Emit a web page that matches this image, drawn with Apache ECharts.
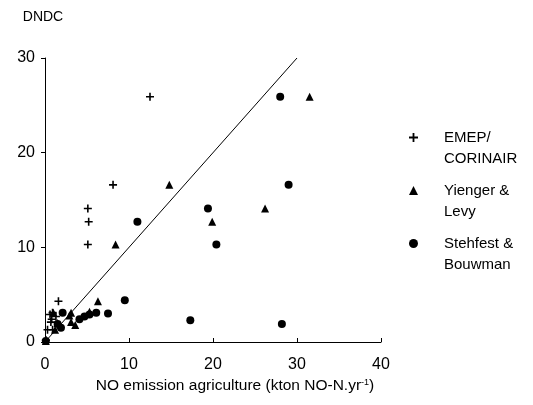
<!DOCTYPE html>
<html style="height: 100%">
<head>
    <meta charset="utf-8">
</head>
<body style="height: 100%; margin: 0; background-color: #fff;">
<div id="container" style="width: 533px; height: 405px"></div>
<script type="text/javascript" src="https://cdn.jsdelivr.net/npm/echarts@6/dist/echarts.min.js"></script>
<script type="text/javascript">
    // x = inventory estimate, y = DNDC estimate (kton NO-N/yr)
    var emepX = [12.5, 8.1, 5.1, 5.2, 5.1, 1.6, 0.9, 0.6, 1.3, 0.8, 0.7, 0.3, 0.9, 0.1];
    var emepY = [25.9, 16.6, 14.1, 12.7, 10.3, 4.3, 3.1, 2.9, 2.7, 2.4, 2.1, 1.3, 1.3, 0.2];
    var yiengerX = [31.5, 14.8, 26.2, 19.9, 8.4, 6.3, 1.0, 3.1, 2.9, 5.3, 1.5, 3.1, 3.6, 1.2, 0.1];
    var yiengerY = [25.9, 16.6, 14.1, 12.7, 10.3, 4.3, 3.1, 3.1, 2.8, 3.2, 2.0, 2.1, 1.8, 1.3, 0.1];
    var stehX = [28.0, 29.0, 19.4, 11.0, 20.4, 9.5, 7.5, 6.1, 5.3, 4.7, 4.1, 2.1, 1.9, 1.5, 17.3, 28.2, 0.1];
    var stehY = [25.9, 16.6, 14.1, 12.7, 10.3, 4.4, 3.0, 3.1, 2.9, 2.7, 2.4, 3.1, 1.5, 1.9, 2.3, 1.9, 0.1];
    var lineX = [0, 30];
    var lineY = [0, 30];
    var seriesNames = ['EMEP/\nCORINAIR', 'Yienger &\nLevy', 'Stehfest &\nBouwman'];

    function pairs(xs, ys) {
        return xs.map(function (x, i) { return [x, ys[i]]; });
    }

    var plus = 'path://M4,0H6V4H10V6H6V10H4V6H0V4H4Z';
    var font = 'Liberation Sans';

    var dom = document.getElementById("container");
    var myChart = echarts.init(dom);

    var option = {
        animation: false,
        textStyle: { fontFamily: font, color: '#000' },
        grid: { left: 45, right: 152, top: 58, bottom: 63 },
        legend: {
            orient: 'vertical',
            left: 404,
            top: 101,
            itemGap: -10,
            itemWidth: 9,
            itemHeight: 9,
            data: [
                { name: seriesNames[0], icon: plus },
                { name: seriesNames[1], icon: 'triangle' },
                { name: seriesNames[2], icon: 'circle' }
            ],
            // blank first line keeps the icon level with the first text line
            formatter: function (name) { return ' \n' + name; },
            itemStyle: { opacity: 1 },
            textStyle: { fontFamily: font, fontSize: 15, color: '#000', lineHeight: 21, padding: [0, 0, 0, 21] }
        },
        xAxis: {
            type: 'value',
            min: 0, max: 40, interval: 10,
            name: 'NO emission agriculture (kton NO-N.yr{sup|-1})',
            nameLocation: 'middle',
            nameGap: 30,
            nameTextStyle: {
                fontFamily: font, fontSize: 15.5, color: '#000', padding: [0, 0, 0, 44],
                rich: { sup: { fontSize: 9, verticalAlign: 'top', padding: [0, 0, 7, 0], fontFamily: font } }
            },
            axisLine: { onZero: false, lineStyle: { color: '#000', width: 1 } },
            axisTick: { inside: true, length: 4, lineStyle: { color: '#000' } },
            axisLabel: { fontSize: 16, color: '#000', margin: 15, fontFamily: font },
            splitLine: { show: false }
        },
        yAxis: {
            type: 'value',
            min: 0, max: 30, interval: 10,
            name: 'DNDC',
            nameLocation: 'end',
            nameGap: 34,
            nameTextStyle: { fontFamily: font, fontSize: 14, color: '#000', padding: [0, 0, 0, -4] },
            axisLine: { onZero: false, lineStyle: { color: '#000', width: 1 } },
            axisTick: { length: 4, lineStyle: { color: '#000' } },
            axisLabel: { fontSize: 16, color: '#000', margin: 10, fontFamily: font },
            splitLine: { show: false }
        },
        series: [
            {
                name: 'fit',
                type: 'line',
                data: pairs(lineX, lineY),
                symbol: 'none',
                silent: true,
                lineStyle: { color: '#000', width: 1 },
                z: 1
            },
            {
                name: seriesNames[0],
                type: 'scatter',
                data: pairs(emepX, emepY),
                symbol: plus,
                symbolSize: 8,
                itemStyle: { color: '#000', opacity: 1 },
                z: 3
            },
            {
                name: seriesNames[1],
                type: 'scatter',
                data: pairs(yiengerX, yiengerY),
                symbol: 'triangle',
                symbolSize: 8,
                itemStyle: { color: '#000', opacity: 1 },
                z: 3
            },
            {
                name: seriesNames[2],
                type: 'scatter',
                data: pairs(stehX, stehY),
                symbol: 'circle',
                symbolSize: 8,
                itemStyle: { color: '#000', opacity: 1 },
                z: 3
            }
        ]
    };
    myChart.setOption(option);
</script>
</body>
</html>
